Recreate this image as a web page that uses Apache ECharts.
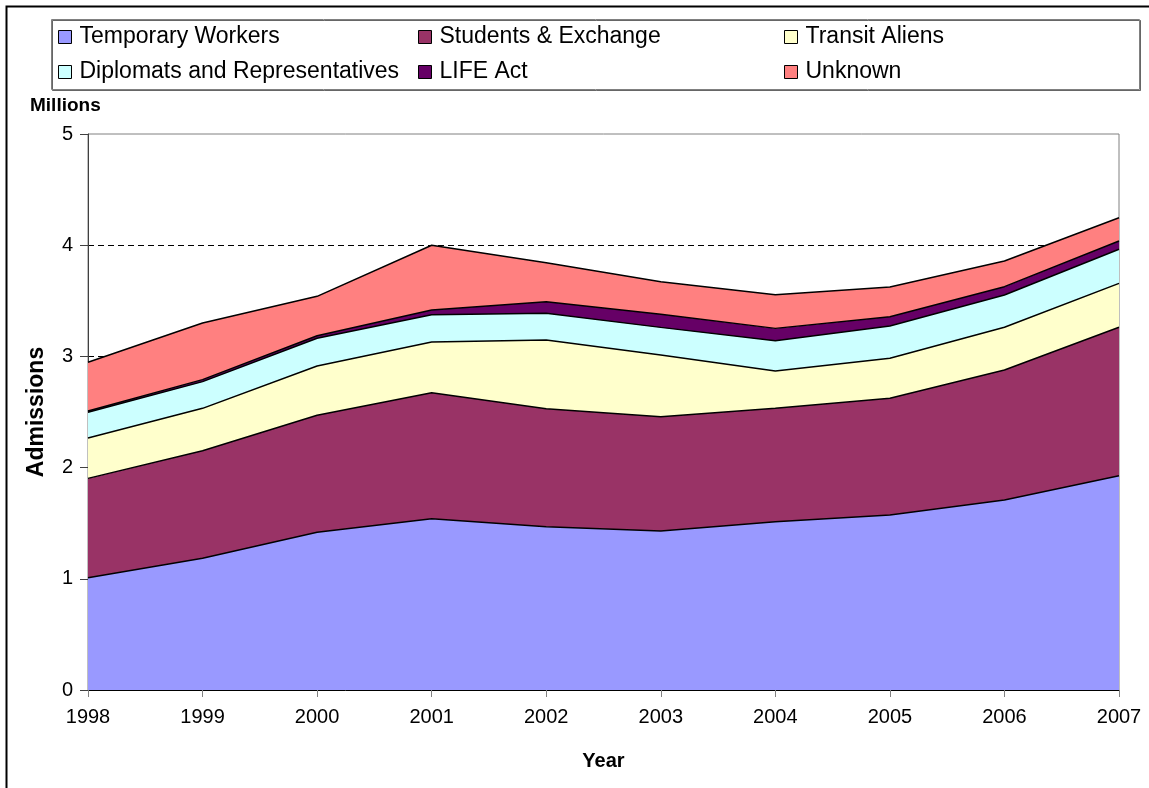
<!DOCTYPE html>
<html>
<head>
<meta charset="utf-8">
<script src="https://cdn.jsdelivr.net/npm/echarts@6/dist/echarts.min.js"></script>
<style>html,body{margin:0;padding:0;background:#fff;}#chart{width:1149px;height:788px;}</style>
</head>
<body>
<div id="chart"></div>
<script>
const years = ['1998','1999','2000','2001','2002','2003','2004','2005','2006','2007'];
const yTicks = [0, 1, 2, 3, 4, 5];
const temporaryWorkers = [1.01, 1.185, 1.418, 1.541, 1.469, 1.430, 1.514, 1.574, 1.709, 1.927];
const studentsExchange = [0.893, 0.967, 1.052, 1.133, 1.061, 1.028, 1.019, 1.049, 1.169, 1.335];
const transitAliens = [0.363, 0.381, 0.444, 0.455, 0.617, 0.555, 0.336, 0.360, 0.384, 0.395];
const diplomats = [0.231, 0.240, 0.249, 0.246, 0.240, 0.248, 0.272, 0.290, 0.290, 0.306];
const lifeAct = [0.012, 0.018, 0.023, 0.042, 0.105, 0.117, 0.111, 0.084, 0.075, 0.075];
const unknown = [0.438, 0.509, 0.354, 0.583, 0.351, 0.294, 0.303, 0.267, 0.231, 0.209];

const seriesNames = ['Temporary Workers', 'Students & Exchange', 'Transit Aliens',
  'Diplomats and Representatives', 'LIFE Act', 'Unknown'];
const seriesData = [temporaryWorkers, studentsExchange, transitAliens, diplomats, lifeAct, unknown];
const fills = ['#9999FF', '#993366', '#FFFFCC', '#CCFFFF', '#660066', '#FF8080'];

const FONT = 'Liberation Sans, Arial, sans-serif';
const legendPos = [[58, 25], [418, 25], [784, 25], [58, 60], [418, 60], [784, 60]];

const chart = echarts.init(document.getElementById('chart'), null, {renderer: 'canvas'});
chart.setOption({
  animation: false,
  backgroundColor: '#fff',
  textStyle: {fontFamily: FONT},
  grid: {left: 88, right: 30, top: 134, bottom: 98, show: true, borderColor: '#808080', borderWidth: 1, backgroundColor: 'transparent'},
  legend: seriesNames.map((n, i) => ({
    data: [n], left: legendPos[i][0], top: legendPos[i][1], icon: 'rect',
    itemWidth: 13, itemHeight: 13, itemGap: 0, padding: 0,
    itemStyle: {borderColor: '#000', borderWidth: 1},
    textStyle: {fontSize: 23, color: '#000', fontFamily: FONT, lineHeight: 24, padding: [0, 0, 0, 3]}
  })),
  xAxis: {
    type: 'category', data: years, boundaryGap: false,
    name: 'Year', nameLocation: 'middle', nameGap: 61,
    nameTextStyle: {fontSize: 20, fontWeight: 'bold', color: '#000', fontFamily: FONT},
    axisLine: {lineStyle: {color: '#000', width: 1}},
    axisTick: {show: true, length: 7, lineStyle: {color: '#808080'}, alignWithLabel: true},
    axisLabel: {fontSize: 20, color: '#000', margin: 17, fontFamily: FONT, interval: 0},
    splitLine: {show: false}
  },
  yAxis: {
    type: 'value', min: yTicks[0], max: yTicks[yTicks.length - 1], interval: 1,
    name: 'Admissions', nameLocation: 'middle', nameRotate: 90, nameGap: 40,
    nameTextStyle: {fontSize: 23, fontWeight: 'bold', color: '#000', fontFamily: FONT},
    axisLine: {show: true, lineStyle: {color: '#404040', width: 1}},
    axisTick: {show: true, length: 8, lineStyle: {color: '#404040'}},
    axisLabel: {fontSize: 20, color: '#000', margin: 15, fontFamily: FONT},
    splitLine: {show: true, lineStyle: {color: ['#000', '#000', '#000', '#000', '#000', 'transparent'], type: [6, 4], width: 1}}
  },
  graphic: [
    {type: 'rect', left: 4, top: 4, shape: {width: 1150, height: 790}, style: {fill: 'none', stroke: '#000', lineWidth: 2}, silent: true, z: 100},
    {type: 'rect', left: 49, top: 17, shape: {width: 1088, height: 70}, style: {fill: 'none', stroke: '#808080', lineWidth: 1, shadowColor: 'rgba(0,0,0,0.6)', shadowOffsetX: 1, shadowOffsetY: 1, shadowBlur: 0}, silent: true, z: 0},
    {type: 'text', left: 30, top: 96, style: {text: 'Millions', font: 'bold 19px ' + FONT, fill: '#000'}, silent: true}
  ],
  series: seriesNames.map((n, i) => ({
    name: n, type: 'line', stack: 'total', data: seriesData[i],
    symbol: 'none', smooth: false, color: fills[i],
    lineStyle: {color: '#000', width: 1.5},
    areaStyle: {color: fills[i], opacity: 1},
    emphasis: {disabled: true}
  }))
});
</script>
</body>
</html>
